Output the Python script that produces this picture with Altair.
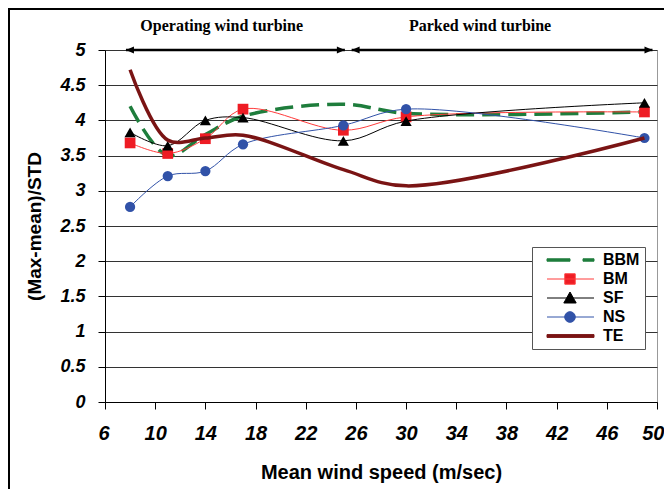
import altair as alt
import pandas as pd

# ---- data ----
speeds = [8, 11, 14, 17, 25, 30, 49]
bbm = [4.20, 3.50, 3.80, 4.06, 4.23, 4.10, 4.12]
bm = [3.68, 3.53, 3.74, 4.16, 3.86, 4.05, 4.12]
sf = [3.83, 3.64, 4.00, 4.04, 3.71, 3.99, 4.25]
ns = [2.77, 3.21, 3.28, 3.66, 3.93, 4.16, 3.75]
te = [4.72, 3.72, 3.75, 3.79, 3.30, 3.07, 3.75]

series_names = ["BBM", "BM", "SF", "NS", "TE"]
series_values = [bbm, bm, sf, ns, te]

x_ticks = [6, 10, 14, 18, 22, 26, 30, 34, 38, 42, 46, 50]
y_ticks = [0, 0.5, 1, 1.5, 2, 2.5, 3, 3.5, 4, 4.5, 5]

ann_text = ["Operating wind turbine", "Parked wind turbine"]
ann_text_x = [15.3, 35.9]
ann_text_y = [5.27, 5.27]
arrow_start = [7.67, 25.66]
arrow_end = [25.12, 49.64]
arrow_y = [5, 5]

# ---- styles ----
GREEN = "#1e7d3c"
RED_LINE = "#ff3b3b"
RED_MARK = "#ee1c24"
BLUE = "#3152a8"
DARKRED = "#7a1414"
BLACK = "#000000"

rows = []
for name, vals in zip(series_names, series_values):
    for s, v in zip(speeds, vals):
        rows.append({"series": name, "speed": s, "value": v})
df = pd.DataFrame(rows)

ann_df = pd.DataFrame({"label": ann_text, "speed": ann_text_x, "value": ann_text_y})
arrow_df = pd.DataFrame({"speed": arrow_start, "end": arrow_end, "value": arrow_y})

xscale = alt.Scale(domain=[6, 50], nice=False, zero=False)
yscale = alt.Scale(domain=[0, 5], nice=False)

xaxis = alt.Axis(
    values=x_ticks, grid=False, title="Mean wind speed (m/sec)",
    domainColor=BLACK, tickColor=BLACK, tickSize=7,
    labelFont="Liberation Sans", labelFontSize=20, labelFontWeight="bold",
    labelFontStyle="italic", labelColor=BLACK, labelPadding=14,
    labelFlush=True, labelFlushOffset=7,
    titleFont="Liberation Sans", titleFontSize=20, titleFontWeight="bold",
    titleColor=BLACK, titleX=276, titleY=76, titleBaseline="alphabetic",
    titleAlign="center",
)
yaxis = alt.Axis(
    values=y_ticks, grid=True, gridColor="#333333", gridWidth=1,
    title="(Max-mean)/STD", format=".1~f",
    domainColor=BLACK, tickColor=BLACK, tickSize=7,
    labelFont="Liberation Sans", labelFontSize=18, labelFontWeight="bold",
    labelFontStyle="italic", labelColor=BLACK, labelPadding=13, labelFlush=False,
    titleFont="Liberation Sans", titleFontSize=19, titleFontWeight="bold",
    titleColor=BLACK, titleX=-71, titleY=176, titleAngle=270,
    titleAlign="center", titleBaseline="middle",
)

X = alt.X("speed:Q", scale=xscale, axis=xaxis)
Y = alt.Y("value:Q", scale=yscale, axis=yaxis)


def line_layer(name, color, width, dash=None):
    kw = dict(color=color, strokeWidth=width, interpolate="catmull-rom")
    if dash is not None:
        kw["strokeDash"] = dash
    return (alt.Chart(df).transform_filter(alt.datum.series == name)
            .mark_line(**kw).encode(x=X, y=Y))


def point_layer(name, shape, color, size):
    return (alt.Chart(df).transform_filter(alt.datum.series == name)
            .mark_point(shape=shape, filled=True, color=color, size=size,
                        opacity=1, strokeWidth=0)
            .encode(x=X, y=Y))


frame = alt.Chart(pd.DataFrame({"k": [0]})).mark_rect(
    filled=False, stroke=BLACK, strokeWidth=2
).encode(x=alt.value(-96), y=alt.value(-41), x2=alt.value(900), y2=alt.value(900))

layers = [
    frame,
    line_layer("BBM", GREEN, 3.5, [18, 8]),
    line_layer("BM", RED_LINE, 1),
    point_layer("BM", "square", RED_MARK, 115),
    line_layer("SF", BLACK, 1),
    point_layer("SF", "triangle-up", BLACK, 125),
    line_layer("NS", BLUE, 1),
    point_layer("NS", "circle", BLUE, 105),
    line_layer("TE", DARKRED, 3.5),
]

# annotations
arrows = alt.Chart(arrow_df).mark_rule(color=BLACK, strokeWidth=2.5).encode(
    x=X, x2="end:Q", y=Y)
right_heads = alt.Chart(arrow_df).mark_point(
    shape="M0,0L-8,-3.5L-8,3.5Z", size=4, filled=True, color=BLACK, opacity=1, strokeWidth=0
).encode(x=alt.X("end:Q", scale=xscale, axis=xaxis), y=Y)
left_heads = alt.Chart(arrow_df).mark_point(
    shape="M0,0L8,-3.5L8,3.5Z", size=4, filled=True, color=BLACK, opacity=1, strokeWidth=0
).encode(x=X, y=Y)
texts = alt.Chart(ann_df).mark_text(
    font="Liberation Serif", fontSize=16, fontWeight="bold", color=BLACK,
    baseline="alphabetic", align="center"
).encode(x=X, y=Y, text="label:N")

# legend (drawn by the library from explicit scale domains)
legend_paths = [
    "M-23,-1.2H0V1.2H-23Z M13,-1.2H24V1.2H13Z",
    "M-23,0H24 M-5.2,-5.2H5.2V5.2H-5.2Z",
    "M-23,0H24 M0,-6L6.2,5H-6.2Z",
    "M-23,0H24 M5.3,0A5.3,5.3 0 1,1 -5.3,0A5.3,5.3 0 1,1 5.3,0Z",
    "M-23,-1.4H24V1.4H-23Z",
]
legend_fill = [GREEN, RED_MARK, BLACK, BLUE, DARKRED]
legend_stroke = [GREEN, RED_LINE, BLACK, BLUE, DARKRED]

leg = alt.Legend(
    title=None, orient="none", legendX=427, legendY=197, direction="vertical",
    symbolSize=4, symbolStrokeWidth=1, symbolOffset=25, labelOffset=25,
    labelFont="Liberation Sans", labelFontSize=16, labelFontWeight="bold",
    labelColor=BLACK, strokeColor="#555555", fillColor="white", padding=5,
    rowPadding=3,
)
legend_df = pd.DataFrame({"series": series_names})
legend_layer = alt.Chart(legend_df).transform_filter("false").mark_point(
    filled=True, opacity=1, strokeWidth=1
).encode(
    shape=alt.Shape("series:N", scale=alt.Scale(domain=series_names, range=legend_paths), legend=leg),
    fill=alt.Fill("series:N", scale=alt.Scale(domain=series_names, range=legend_fill), legend=leg),
    stroke=alt.Stroke("series:N", scale=alt.Scale(domain=series_names, range=legend_stroke), legend=leg),
)

chart = alt.layer(*layers, arrows, right_heads, left_heads, texts, legend_layer).properties(
    width=552, height=352, autosize="none",
    padding={"left": 97, "top": 42, "right": 7, "bottom": 87},
    background="white",
).configure_view(stroke="#999999", strokeWidth=1)

chart.save("out.html", embed_options={"renderer": "svg", "actions": False})
